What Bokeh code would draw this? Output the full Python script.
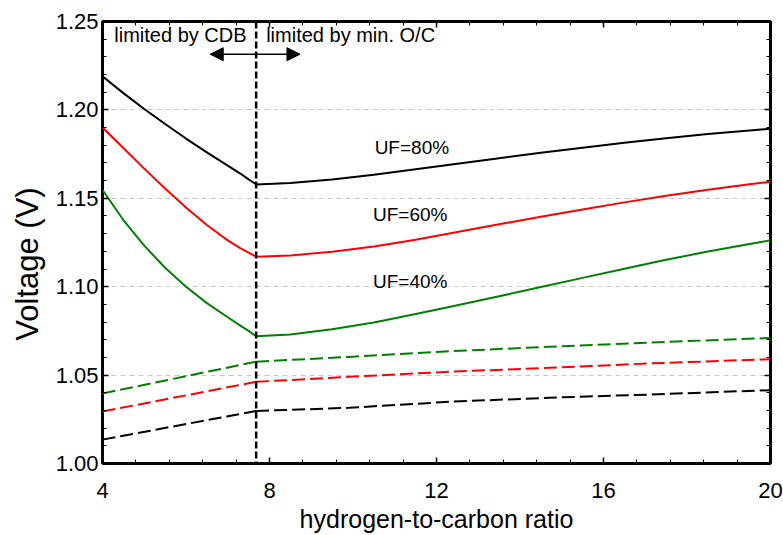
from bokeh.plotting import figure
from bokeh.models import (Label, Arrow, NormalHead, FixedTicker, LinearAxis,
                          NumeralTickFormatter, Span, CustomJSTickFormatter)
from bokeh.embed import file_html
from bokeh.resources import INLINE

# ---- data ----
boundary_hc = 7.68

# solid curves (upper), left branch: limited by CDB
hc_left = [4.0, 4.5, 5.0, 5.5, 6.0, 6.5, 7.0, 7.3, 7.5, 7.68]
uf80_left = [1.2190, 1.2095, 1.2005, 1.1920, 1.1838, 1.1760, 1.1685, 1.1640, 1.1607, 1.1580]
uf60_left = [1.1900, 1.1785, 1.1668, 1.1555, 1.1448, 1.1349, 1.1262, 1.1218, 1.1193, 1.1170]
uf40_left = [1.1547, 1.1377, 1.1232, 1.1107, 1.1000, 1.0907, 1.0827, 1.0780, 1.0750, 1.0720]

# right branch: limited by min. O/C
hc_right = [7.68, 8.5, 9.5, 10.5, 11.5, 12.5, 13.5, 14.5, 15.5, 16.5, 17.5, 18.5, 19.5, 20.0]
uf80_right = [1.1578, 1.1586, 1.1606, 1.1633, 1.1664, 1.1695, 1.1727, 1.1757,
              1.1786, 1.1814, 1.1840, 1.1864, 1.1884, 1.1893]
uf60_right = [1.1170, 1.1177, 1.1198, 1.1228, 1.1266, 1.1309, 1.1353, 1.1396,
              1.1437, 1.1477, 1.1514, 1.1548, 1.1579, 1.1594]
uf40_right = [1.0720, 1.0730, 1.0759, 1.0798, 1.0845, 1.0895, 1.0946, 1.0998,
              1.1050, 1.1102, 1.1152, 1.1199, 1.1242, 1.1262]

# dashed curves (lower)
hc_dl = [4.0, 7.68]
d40_left = [1.0396, 1.0576]
d60_left = [1.0294, 1.0462]
d80_left = [1.0135, 1.0297]
hc_dr = [7.68, 9.9, 12.3, 14.7, 17.1, 20.0]
d40_right = [1.0576, 1.0603, 1.0635, 1.0660, 1.0684, 1.0710]
d60_right = [1.0462, 1.0490, 1.0519, 1.0541, 1.0566, 1.0590]
d80_right = [1.0297, 1.0315, 1.0349, 1.0372, 1.0390, 1.0415]

x_ticks = [4, 8, 12, 16, 20]
y_ticks = [1.00, 1.05, 1.10, 1.15, 1.20, 1.25]
x_minor = [round(4 + 0.8 * i, 2) for i in range(21)]
y_minor = [round(1.00 + 0.01 * i, 2) for i in range(26)]

FONT = "Liberation Sans"

p = figure(width=783, height=535, x_range=(4, 20), y_range=(1.0, 1.25),
           output_backend="svg", toolbar_location=None,
           min_border_left=102, min_border_right=13, min_border_top=21,
           min_border_bottom=69, background_fill_color="white",
           border_fill_color="white")

p.outline_line_color = "black"
p.outline_line_width = 3
p.xgrid.visible = False
p.ygrid.grid_line_color = "#c8c8c8"
p.ygrid.grid_line_dash = "5 4"
p.ygrid.grid_line_width = 1

xt = FixedTicker(ticks=x_ticks, minor_ticks=x_minor)
yt = FixedTicker(ticks=y_ticks, minor_ticks=y_minor)

def style_axis(ax, labels=True):
    ax.axis_line_color = None
    ax.major_tick_in = 6
    ax.major_tick_out = 0
    ax.minor_tick_in = 4
    ax.minor_tick_out = 0
    ax.major_tick_line_width = 1.5
    ax.minor_tick_line_width = 1
    ax.major_tick_line_color = "black"
    ax.minor_tick_line_color = "black"
    if labels:
        ax.major_label_text_font = FONT
        ax.major_label_text_font_size = "22px"
        ax.major_label_text_color = "black"
    else:
        ax.formatter = CustomJSTickFormatter(code="return ''")
        ax.major_label_standoff = 0

p.xaxis.ticker = xt
p.yaxis.ticker = yt
p.yaxis.formatter = NumeralTickFormatter(format="0.00")
style_axis(p.xaxis[0])
style_axis(p.yaxis[0])
p.xaxis.major_label_standoff = 19
p.yaxis.major_label_standoff = 4
p.xaxis.axis_label = "hydrogen-to-carbon ratio"
# trailing no-break spaces push the rotated title slightly down, as in the reference
p.yaxis.axis_label = "Voltage (V)" + "\u00a0" * 5
for ax in (p.xaxis[0], p.yaxis[0]):
    ax.axis_label_text_font = FONT
    ax.axis_label_text_font_style = "normal"
    ax.axis_label_text_color = "black"
p.xaxis.axis_label_text_font_size = "25px"
p.yaxis.axis_label_text_font_size = "31px"
p.xaxis.axis_label_standoff = 4
p.yaxis.axis_label_standoff = 8

top = LinearAxis(ticker=FixedTicker(ticks=x_ticks, minor_ticks=x_minor))
right = LinearAxis(ticker=FixedTicker(ticks=y_ticks, minor_ticks=y_minor))
style_axis(top, labels=False)
style_axis(right, labels=False)
p.add_layout(top, "above")
p.add_layout(right, "right")

colors = {"80": "black", "60": "#ff0000", "40": "#008000"}
LW = 2

for key, yl, yr in (("80", uf80_left, uf80_right),
                    ("60", uf60_left, uf60_right),
                    ("40", uf40_left, uf40_right)):
    p.line(hc_left, yl, line_color=colors[key], line_width=LW, line_join="round")
    p.line(hc_right, yr, line_color=colors[key], line_width=LW, line_join="round")

for key, yl, yr in (("80", d80_left, d80_right),
                    ("60", d60_left, d60_right),
                    ("40", d40_left, d40_right)):
    p.line(hc_dl, yl, line_color=colors[key], line_width=LW, line_dash="13 5")
    p.line(hc_dr, yr, line_color=colors[key], line_width=LW, line_dash="13 5")

p.add_layout(Span(location=boundary_hc, dimension="height", line_color="black",
                  line_width=2.5, line_dash="7 3"))

p.add_layout(Arrow(x_start=6.58, x_end=8.73, y_start=1.2315, y_end=1.2315,
                   line_color="black", line_width=1.5,
                   start=NormalHead(size=13, fill_color="black", line_color="black"),
                   end=NormalHead(size=13, fill_color="black", line_color="black")))

def add_label(x, y, text, align="center", size="19px"):
    p.add_layout(Label(x=x, y=y, text=text, text_font=FONT, text_font_size=size,
                       text_color="black", text_align=align,
                       text_baseline="middle"))

add_label(7.45, 1.2423, "limited by CDB", align="right", size="20px")
add_label(7.92, 1.2423, "limited by min. O/C", align="left", size="20px")
add_label(11.41, 1.1789, "UF=80%")
add_label(11.37, 1.1410, "UF=60%")
add_label(11.37, 1.1028, "UF=40%")

open("out.html", "w").write(file_html(p, INLINE))
